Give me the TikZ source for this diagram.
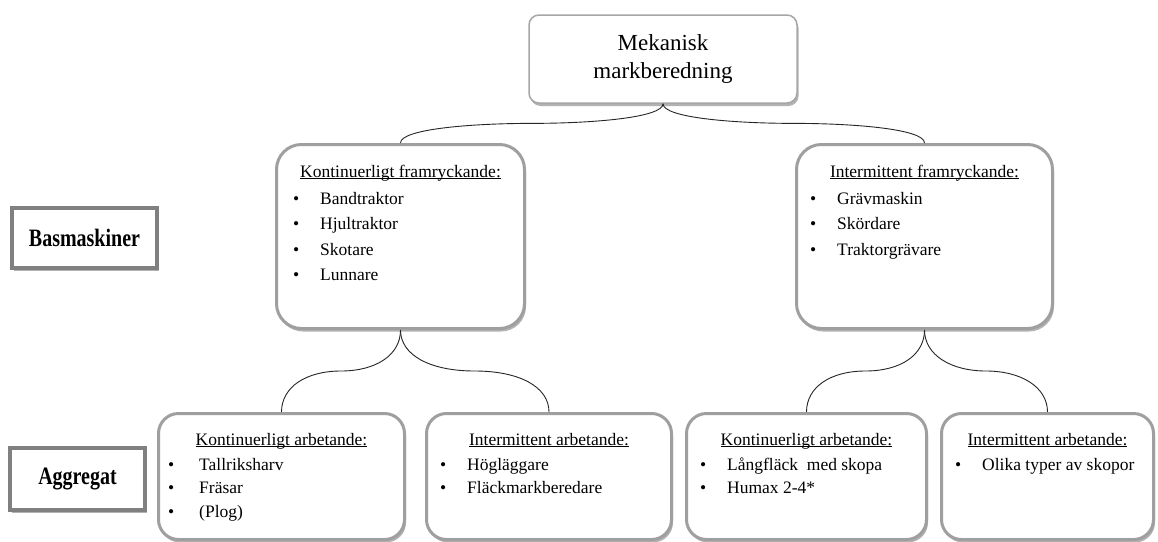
\documentclass[tikz,border=0pt]{standalone}
\usepackage{fontspec}
\usepackage{graphicx}
\setmainfont{Liberation Serif}
\usetikzlibrary{positioning,calc,shadows}
\newcommand{\itm}[1]{\strut\makebox[27pt][l]{\textbullet}#1}
\newcommand{\uhead}[1]{\underline{\smash{#1}}}
\newcommand{\tallbf}[1]{\scalebox{0.8}[1]{#1}}

\begin{document}
\begin{tikzpicture}[
    x=1pt, y=-1pt,
    shade/.style={drop shadow={shadow xshift=1.5pt, shadow yshift=-3pt, fill=black, opacity=.3}},
    rootbox/.style={draw=gray!70, line width=1.5pt, rounded corners=10pt, fill=white, shade, minimum width=268pt, minimum height=88pt, align=center, font=\fontsize{23}{28}\selectfont},
    bigbox/.style={draw=gray!75, line width=3pt, rounded corners=25pt, fill=white, shade, minimum width=248pt, minimum height=184pt, anchor=north west},
    smallbox/.style={bigbox, rounded corners=20pt, minimum height=126pt},
    lvlbox/.style={draw=gray, line width=3.5pt, fill=white, shade, align=center, font=\fontsize{25}{28}\bfseries},
    hd/.style={anchor=base, inner sep=0pt, font=\fontsize{17.5}{21}\selectfont},
    mlst/.style={anchor=north west, inner sep=0pt, align=left, font=\fontsize{17.5}{25.6}\selectfont},
    slst/.style={anchor=north west, inner sep=0pt, align=left, font=\fontsize{17.5}{23.5}\selectfont},
    brace/.style={line width=.9pt, black!85}
]
\useasboundingbox[fill=white] (0,0) rectangle (1158,541);

% top level
\node[rootbox] (root) at (663,59) {Mekanisk\\markberedning};

% row labels
\node[lvlbox, minimum width=145pt, minimum height=60pt] (basm) at (84.5,238) {\tallbf{Basmaskiner}};
\node[lvlbox, minimum width=135pt, minimum height=62pt] (aggr) at (77.5,479) {\tallbf{Aggregat}};

% base machines
\node[bigbox] (kontfram) at (275,143) {};
\node[bigbox, minimum width=256pt] (intfram) at (795,143) {};

\node[hd] (kontframH) at ([yshift=-34pt]kontfram.north) {\uhead{Kontinuerligt framryckande:}};
\node[mlst] (kontframL) at ([xshift=18pt,yshift=-43pt]kontfram.north west) {\itm{Bandtraktor}\\\itm{Hjultraktor}\\\itm{Skotare}\\\itm{Lunnare}};
\node[hd] (intframH) at ([yshift=-34pt]intfram.north) {\uhead{Intermittent framryckande:}};
\node[mlst] (intframL) at ([xshift=15pt,yshift=-43pt]intfram.north west) {\itm{Grävmaskin}\\\itm{Skördare}\\\itm{Traktorgrävare}};

% aggregates
\node[smallbox, minimum width=246pt] (kontarb) at (157,412) {};
\node[smallbox, minimum width=245pt] (intarb) at (425,412) {};
\node[smallbox, minimum width=240pt] (kontarbB) at (685,412) {};
\node[smallbox, minimum width=212pt] (intarbB) at (940,412) {};

\node[hd] (kontarbH) at ([yshift=-33pt]kontarb.north) {\uhead{Kontinuerligt arbetande:}};
\node[slst] (kontarbL) at ([xshift=11pt,yshift=-41.5pt]kontarb.north west) {\itm{\hspace{4pt}Tallriksharv}\\\itm{\hspace{4pt}Fräsar}\\\itm{\hspace{4pt}(Plog)}};
\node[hd] (intarbH) at ([yshift=-33pt]intarb.north) {\uhead{Intermittent arbetande:}};
\node[slst] (intarbL) at ([xshift=15pt,yshift=-41.5pt]intarb.north west) {\itm{Högläggare}\\\itm{Fläckmarkberedare}};
\node[hd] (kontarbBH) at ([yshift=-33pt]kontarbB.north) {\uhead{Kontinuerligt arbetande:}};
\node[slst] (kontarbBL) at ([xshift=15pt,yshift=-41.5pt]kontarbB.north west) {\itm{Långfläck~ med skopa}\\\itm{Humax 2-4*}};
\node[hd] (intarbBH) at ([yshift=-33pt]intarbB.north) {\uhead{Intermittent arbetande:}};
\node[slst] (intarbBL) at ([xshift=15pt,yshift=-41.5pt]intarbB.north west) {\itm{Olika typer av skopor}};

% braces
\coordinate (tl) at ($(root.south)!.5!(kontfram.north)$);
\coordinate (tr) at ($(root.south)!.5!(intfram.north)$);
\draw[brace] (root.south) .. controls +(0,14) and +(60,0) .. (tl) .. controls +(-60,0) and +(0,-14) .. (kontfram.north);
\draw[brace] (root.south) .. controls +(0,14) and +(-60,0) .. (tr) .. controls +(60,0) and +(0,-14) .. (intfram.north);

\coordinate (bl1) at ($(kontfram.south)!.5!(kontarb.north)$);
\coordinate (bl2) at ($(kontfram.south)!.5!(intarb.north)$);
\draw[brace] (kontfram.south) .. controls +(0,25) and +(35,0) .. (bl1) .. controls +(-35,0) and +(0,-25) .. (kontarb.north);
\draw[brace] (kontfram.south) .. controls +(0,25) and +(-45,0) .. (bl2) .. controls +(45,0) and +(0,-25) .. (intarb.north);

\coordinate (br1) at ($(intfram.south)!.5!(kontarbB.north)$);
\coordinate (br2) at ($(intfram.south)!.5!(intarbB.north)$);
\draw[brace] (intfram.south) .. controls +(0,25) and +(35,0) .. (br1) .. controls +(-35,0) and +(0,-25) .. (kontarbB.north);
\draw[brace] (intfram.south) .. controls +(0,25) and +(-35,0) .. (br2) .. controls +(35,0) and +(0,-25) .. (intarbB.north);
\end{tikzpicture}
\end{document}
